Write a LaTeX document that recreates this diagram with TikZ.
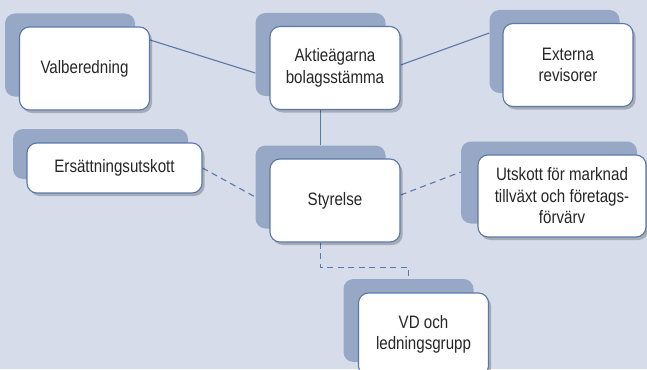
\documentclass[tikz,border=0pt]{standalone}
\usepackage{fontspec}
\setmainfont{Liberation Sans}[FakeStretch=0.84]
\usetikzlibrary{shadows}
\definecolor{bgc}{HTML}{D6DCE9}
\definecolor{shc}{HTML}{97A7C6}
\definecolor{lnc}{HTML}{5A78A8}
\definecolor{txc}{HTML}{262626}
\pgfdeclarelayer{back}
\pgfdeclarelayer{mid}
\pgfsetlayers{back,mid,main}
\tikzset{
  backbox/.style={draw=none,fill=shc,rounded corners=10pt,minimum width=130pt,minimum height=83pt,inner sep=0pt},
  frontbox/.style={draw=lnc,line width=1.1pt,fill=white,rounded corners=10pt,minimum width=130pt,minimum height=83pt,inner sep=0pt,align=center,text=txc,
    font=\fontsize{18}{21.5}\selectfont,
    drop shadow={shadow xshift=2.5pt,shadow yshift=-3pt,opacity=0.22,fill=black}},
  conn/.style={draw=lnc,line width=1.1pt},
  dconn/.style={draw=lnc,line width=1.1pt,dash pattern=on 6pt off 4.5pt}
}
\begin{document}
\begin{tikzpicture}[x=1pt,y=-1pt]
\begin{pgfonlayer}{back}
\fill[bgc] (0,0) rectangle (647,369);
\node[backbox] (vS) at (70,55) {};
\node[backbox] (aS) at (320.5,54.5) {};
\node[backbox] (eS) at (554.5,51.5) {};
\node[backbox,minimum width=175pt,minimum height=50pt] (rS) at (100.5,154) {};
\node[backbox] (sS) at (320.5,187) {};
\node[backbox,minimum width=176pt,minimum height=82pt] (uS) at (549,182.5) {};
\node[backbox] (dS) at (408.5,320.5) {};
\end{pgfonlayer}
\useasboundingbox (0,0) rectangle (647,369);
% front boxes
\node[frontbox] (v) at (84.5,68.5) {Valberedning};
\node[frontbox] (a) at (335,68) {Aktieägarna\\bolagsstämma};
\node[frontbox] (e) at (568,65) {Externa\\revisorer};
\node[frontbox,minimum width=175pt,minimum height=50pt] (r) at (114.5,168) {Ersättningsutskott};
\node[frontbox] (s) at (335,200.5) {Styrelse};
\node[frontbox,minimum width=168pt,minimum height=82pt] (u) at (562,196) {Utskott för marknad\\tillväxt och företags-\\förvärv};
\node[frontbox] (d) at (423.5,334.5) {VD och\\ledningsgrupp};
% connectors
\begin{pgfonlayer}{mid}
\draw[conn] ([yshift=28.5pt]v.east) -- ([yshift=-18.5pt]aS.west);
\draw[conn] ([yshift=3pt]a.east) -- ([yshift=18.5pt]eS.west);
\draw[conn] (a.south -| sS.north) -- (sS.north);
\draw[dconn] (r.east) -- ([yshift=-10pt]sS.west);
\draw[dconn] ([yshift=5.5pt]s.east) -- ([yshift=10.5pt]uS.west);
\draw[dconn] (s.south -| sS.south) -- ++(0,25) -| (dS.north);
\end{pgfonlayer}
\end{tikzpicture}
\end{document}
